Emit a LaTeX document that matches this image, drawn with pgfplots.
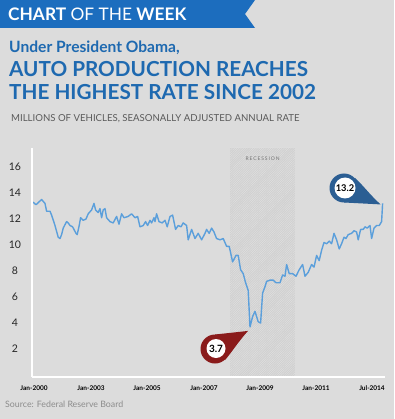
\documentclass[border=0pt]{standalone}
\usepackage{fontspec}
\setmainfont{Lato}
\usepackage{pgfplots}
\pgfplotsset{compat=1.18}
\usetikzlibrary{patterns.meta}
\definecolor{bg}{HTML}{DCDCDC}
\definecolor{banner}{HTML}{1C6DBE}
\definecolor{ttl}{HTML}{1E69B0}
\definecolor{lineblue}{HTML}{5B9FDB}
\definecolor{redc}{HTML}{8A1B1B}
\definecolor{bluec}{HTML}{2B5E93}
\definecolor{subg}{HTML}{5A5A5A}
\definecolor{recfill}{HTML}{D0D0D0}
\begin{document}
\begin{tikzpicture}
\fill[bg] (0,0) rectangle (394pt,-419pt);
\useasboundingbox (0,0) rectangle (394pt,-419pt);
% banner
\fill[banner] (0,0) -- (255pt,0) -- (245pt,-14pt) -- (255pt,-28pt) -- (0,-28pt) -- cycle;
\node[anchor=base west, text=white, font=\fontsize{17.3}{17.3}\selectfont, inner sep=0] at (8pt,-20.5pt) {\textbf{CHART} OF THE \textbf{WEEK}};
% titles
\node[anchor=base west, text=ttl, font=\bfseries\fontsize{15.6}{15.6}\selectfont, inner sep=0] at (9pt,-53pt) {Under President Obama,};
\node[anchor=base west, text=ttl, font=\bfseries\fontsize{20.7}{20.7}\selectfont, inner sep=0] at (9pt,-77pt) {AUTO PRODUCTION REACHES};
\node[anchor=base west, text=ttl, font=\bfseries\fontsize{20.7}{20.7}\selectfont, inner sep=0] at (9pt,-100pt) {THE HIGHEST RATE SINCE 2002};
\node[anchor=base west, text=subg, font=\fontsize{9.6}{9.6}\selectfont, inner sep=0] at (11pt,-122pt) {MILLIONS OF VEHICLES, SEASONALLY ADJUSTED ANNUAL RATE};
\node[anchor=base west, text=black!45, font=\fontsize{8.8}{8.8}\selectfont, inner sep=0] at (5pt,-407pt) {Source: Federal Reserve Board};

\begin{axis}[
  at={(32pt,-377pt)}, anchor=south west,
  scale only axis, width=353pt, height=229.5pt,
  xmin=-0.5, xmax=176, ymin=-0.15, ymax=17.5,
  axis x line=bottom, axis y line=left,
  axis line style={white, line width=2pt, -},
  axis on top,
  ytick={2,4,6,8,10,12,14,16},
  xtick={0.5,29,57,85.5,113.5,141.5,169.5},
  xticklabels={Jan-2000,Jan-2003,Jan-2005,Jan-2007,Jan-2009,Jan-2011,Jul-2014},
  major tick length=0pt,
  /pgf/number format/assume math mode=true,
  yticklabel style={anchor=center, xshift=-17pt, font=\fontsize{10.5}{10.5}\selectfont, text=black!85},
  xticklabel style={anchor=center, yshift=-11.5pt, font=\bfseries\fontsize{6.5}{6.5}\selectfont},
  clip=false,
]
\fill[recfill] (axis cs:98.5,-0.15) rectangle (axis cs:131,17.5);
\fill[pattern={Lines[angle=45,distance=1.6pt,line width=0.5pt]}, pattern color=white!35!recfill] (axis cs:98.5,-0.15) rectangle (axis cs:131,17.5);
\node[text=black!55, font=\addfontfeature{LetterSpace=18}\fontsize{5}{5}\selectfont] at (axis cs:114.8,16.6) {RECESSION};
\addplot[lineblue, line width=1.4pt, line join=round] coordinates {
(0,13.3) (1.5,13.1) (4.3,13.5) (6,13.2) (6.8,12.6) (8.5,12.6) (9.3,12.3) (11,11.5)
(12.6,10.6) (13.5,10.5) (14.3,10.8) (15.1,11.3) (16.8,11.8) (17.6,11.7) (18.5,11.5)
(19.8,11.4) (21.5,10.9) (22.1,10.8) (23.1,11.5) (23.8,12.1) (25.1,11.9) (26.5,12.0)
(27.6,12.4) (29.3,12.7) (30.5,13.2) (31.3,12.7) (32.6,12.5) (33.5,12.8) (34.3,12.1)
(35.1,12.7) (36,12.8) (36.8,12.1) (38.5,11.8) (40.1,11.7) (41.8,12.2) (43,11.6)
(44.3,12.4) (45.5,12.1) (47.6,12.2) (49.3,12.4) (51,12.1) (52.3,12.2) (53.5,11.4)
(55.1,11.5) (56.3,11.8) (57.3,11.5) (58.5,11.9) (59.3,11.7) (60.5,12.1) (61,11.8)
(61.8,12.4) (63,11.8) (64.6,11.7) (66,11.9) (67.1,11.4) (68.5,12.2) (69.8,12.3)
(71.3,11.2) (72.6,11.5) (74,11.4) (75.1,11.7) (76.8,11.5) (77.6,10.4) (79.3,11.2)
(81,10.5) (82.6,10.9) (84.3,10.4) (86,10.9) (86.8,11.2) (88.1,10.9) (89.3,11.3)
(90.5,11.0) (91.8,10.5) (93.5,10.4) (95.1,10.5) (96.8,9.9) (98.1,9.9) (99.8,8.7)
(101.5,9.2) (102.6,9.2) (103.8,8.1) (105.1,7.8) (106.3,7.1) (107.6,6.5) (108.5,3.7)
(109.8,4.5) (111,4.9) (112.6,4.1) (113.8,4.0) (114.8,6.3) (116,6.8) (116.8,7.2)
(118.5,7.3) (120.1,7.3) (121.5,7.1) (123.5,7.1) (124.8,7.7) (126,7.6) (126.8,8.5)
(128.1,7.8) (129.8,7.8) (131.5,7.6) (133.1,8.1) (134.8,8.5) (136,7.6) (137.6,7.9)
(139.3,8.5) (140.5,8.3) (141.8,9.2) (143.1,8.8) (144.3,9.6) (145.5,10.2) (146.8,10.1)
(148.1,10.3) (149.3,10.1) (150.5,10.9) (151.8,10.4) (153.1,9.7) (154.3,10.1) (155.5,10.6)
(156.5,10.5) (157.6,10.8) (159.3,10.9) (160.5,11.1) (161.8,11.0) (162.6,10.4) (163.8,11.2)
(165.1,11.2) (166,11.4) (167.1,11.3) (168.5,11.5) (169.3,10.5) (170.5,11.3) (171.8,11.5)
(173.1,11.5) (174.3,11.8) (174.8,13.2)
};
\coordinate (minpt) at (axis cs:108.5,3.7);
\coordinate (maxpt) at (axis cs:174.8,13.2);
\end{axis}
% red callout (3.7)
\fill[redc] (215pt,-349pt) circle (14.5pt);
\fill[redc] (215pt,-334.5pt) -- ([xshift=-2pt,yshift=-4pt]minpt) .. controls (238pt,-342pt) and (232pt,-352pt) .. (225pt,-360pt) -- (215pt,-349pt) -- cycle;
\fill[white] (216pt,-348.5pt) circle (9.5pt);
\node[font=\bfseries\fontsize{10}{10}\selectfont] at (216pt,-348.5pt) {3.7};
% blue callout (13.2)
\fill[bluec] (344pt,-188pt) circle (14.5pt);
\fill[bluec] (344pt,-202.5pt) -- ([xshift=-2pt,yshift=-1pt]maxpt) .. controls (370pt,-195pt) and (362pt,-184pt) .. (355pt,-178pt) -- (344pt,-188pt) -- cycle;
\fill[white] (345pt,-188pt) circle (10.5pt);
\node[font=\bfseries\fontsize{9.3}{9.3}\selectfont] at (345pt,-188pt) {13.2};
\end{tikzpicture}
\end{document}
